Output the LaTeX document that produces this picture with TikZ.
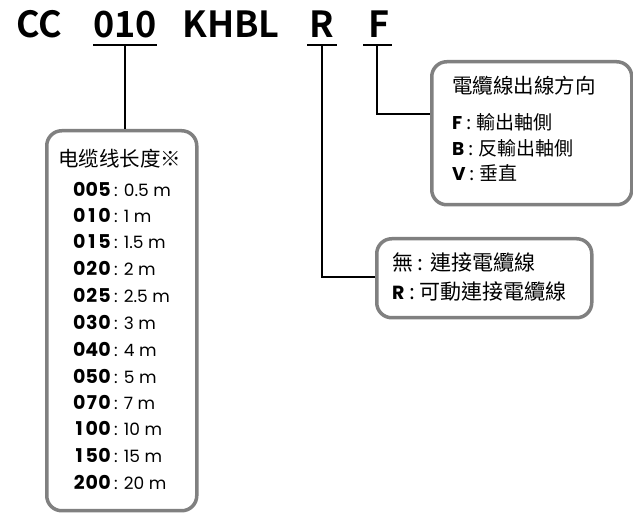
\documentclass[tikz,border=0pt]{standalone}
\usepackage{fontspec}
\setmainfont{Noto Sans CJK TC}[BoldFont={Noto Sans CJK TC Bold}]
\newfontfamily\pop{Poppins}[BoldFont={Poppins Bold}]
\newcommand\dg[1]{\makebox[12.6pt]{#1}}
\begin{document}
\begin{tikzpicture}[x=1pt,y=-1pt,
  titletxt/.style={font=\fontsize{36}{36}\selectfont\bfseries, anchor=base, inner sep=0pt},
  ul/.style={line width=2pt, black},
  conn/.style={line width=2pt, black},
  gbox/.style={draw=black!50, line width=3.5pt, rounded corners=15pt, fill=white},
  head/.style={font=\fontsize{20.5}{20.5}\selectfont, anchor=base west, inner sep=0pt},
  num/.style={font=\pop\fontsize{19}{19}\selectfont\bfseries, anchor=base east, inner sep=0pt},
  val/.style={font=\pop\fontsize{17}{17}\selectfont, anchor=base west, inner sep=0pt},
  item/.style={font=\fontsize{19}{19}\selectfont, anchor=base west, inner sep=0pt},
  ritem/.style={font=\fontsize{21}{21}\selectfont, anchor=base west, inner sep=0pt},
]
\useasboundingbox (0,0) rectangle (633,513);
% title
\node[titletxt] (tCC) at (39,38) {CC};
\node[titletxt] (t010) at (125,38) {010};
\node[titletxt] (tK) at (231,38) {KHBL};
\node[titletxt] (tR) at (322,38) {R};
\node[titletxt] (tF) at (379,38) {F};
\coordinate (u1a) at (93,45); \coordinate (u1b) at (157,45);
\coordinate (u2a) at (307,45); \coordinate (u2b) at (337,45);
\coordinate (u3a) at (363,45); \coordinate (u3b) at (392,45);
\coordinate (d1) at (125,45);
\coordinate (d2) at (322,45);
\coordinate (d3) at (377,45);
\draw[ul] (u1a) -- (u1b);
\draw[ul] (u2a) -- (u2b);
\draw[ul] (u3a) -- (u3b);
% boxes
\node[gbox, minimum width=150pt, minimum height=380pt, anchor=north west] (bL) at (45,129) {};
\node[gbox, minimum width=200pt, minimum height=143pt, anchor=north west] (bF) at (430,60) {};
\node[gbox, minimum width=215pt, minimum height=79pt, anchor=north west] (bR) at (375,237) {};
% connectors
\draw[conn] (d1) -- (d1 |- bL.north);
\coordinate (k2) at (322,277);
\draw[conn] (d2) -- (k2) -- (k2 -| bR.west);
\coordinate (k3) at (377,114);
\draw[conn] (d3) -- (k3) -- (k3 -| bF.west);
% left box text
\node[head] (hL) at (58,167) {电缆线长度※};
\foreach \a/\b/\c/\v/\y [count=\i] in {0/0/5/0.5 m/197,0/1/0/1 m/223,0/1/5/1.5 m/249,0/2/0/2 m/276,0/2/5/2.5 m/303,0/3/0/3 m/330,0/4/0/4 m/357,0/5/0/5 m/384,0/7/0/7 m/410,1/0/0/10 m/436,1/5/0/15 m/463,2/0/0/20 m/490}{
  \node[num] (n\i) at (111,\y) {\dg{\a}\dg{\b}\dg{\c}};
  \node[val] (v\i) at (114,\y) {: \v};
}
% F box text
\node[head] (hF) at (452,94) {電纜線出線方向};
\node[item] (f1) at (452,130) {{\pop\bfseries\fontsize{18.5}{18.5}\selectfont F} : 輸出軸側};
\node[item] (f2) at (452,156) {{\pop\bfseries\fontsize{18.5}{18.5}\selectfont B} : 反輸出軸側};
\node[item] (f3) at (452,181) {{\pop\bfseries\fontsize{18.5}{18.5}\selectfont V} : 垂直};
% R box text
\node[ritem] (r1) at (392,271) {無 : 連接電纜線};
\node[ritem] (r2) at (392,300) {{\pop\bfseries\fontsize{19}{19}\selectfont R} : 可動連接電纜線};
\end{tikzpicture}
\end{document}
